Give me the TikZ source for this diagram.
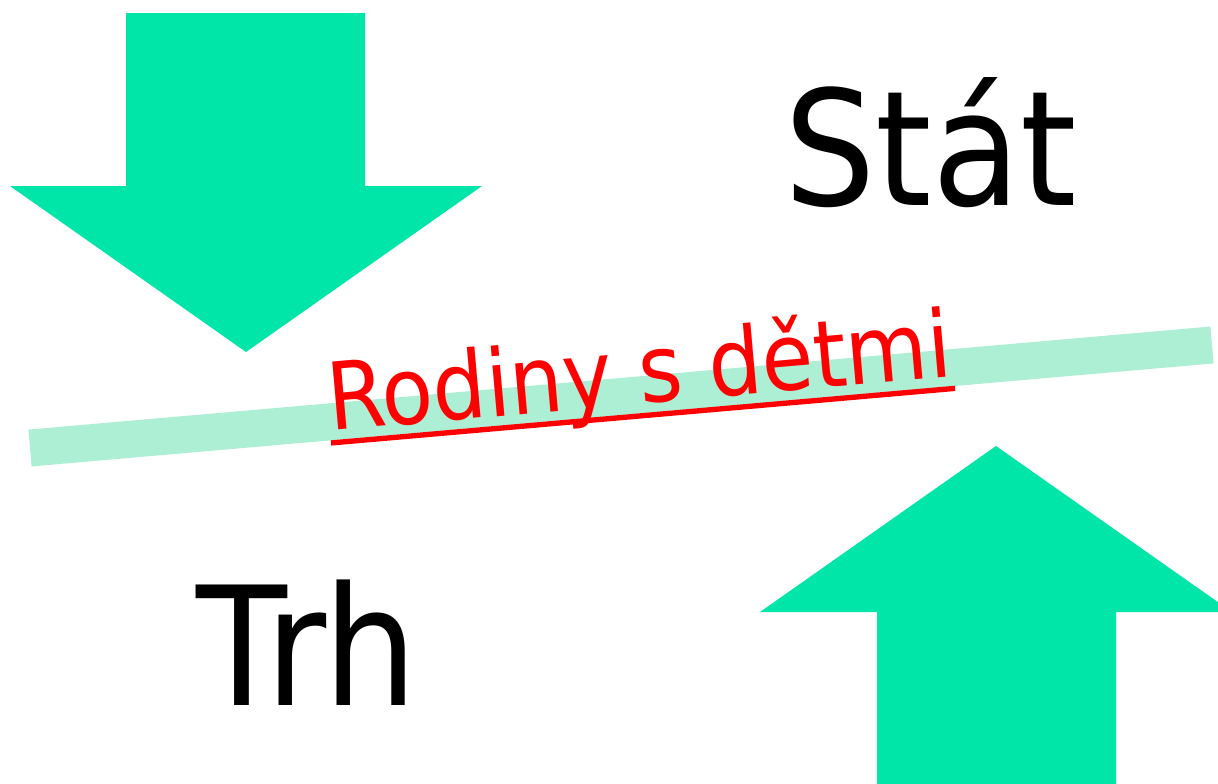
\documentclass[tikz,border=0pt]{standalone}
\usepackage{fontspec}
\setmainfont{DejaVu Sans}[FakeStretch=0.9]
\usetikzlibrary{calc}
\definecolor{arrowgreen}{RGB}{0,229,168}
\definecolor{bargreen}{RGB}{173,239,213}
\tikzset{bigarrow/.style={fill=arrowgreen, draw=none},
  word/.style={inner sep=0pt, anchor=base west}}

\begin{document}
\begin{tikzpicture}[x=0.75pt, y=-0.75pt]
\useasboundingbox (0,0) rectangle (1218,783);
\clip (0,0) rectangle (1218,783);

% arrows
\fill[bigarrow] (126,13) -- (365,13) -- (365,186) -- (482,186) -- (246,352) -- (10,186) -- (126,186) -- cycle;
\fill[bigarrow] (996,446) -- (1232,612) -- (1116,612) -- (1116,800) -- (877,800) -- (877,612) -- (760,612) -- cycle;

% bar
\coordinate (bar-l) at (30,448);
\coordinate (bar-r) at (1212,345);
\draw[bargreen, line width=27.75pt] (bar-l) -- (bar-r);

\node[word] (stat) at (784,205) {\fontsize{120}{144}\selectfont Stát};
\node[word] (trh) at (196,705) {\fontsize{124}{148}\selectfont Trh};
\node[word, rotate=5, text=red] (rodiny) at (330,431) {\fontsize{70}{84}\selectfont Rodiny s dětmi};
\draw[red, line width=4pt]
  ($(rodiny.base west)!9pt!-90:(rodiny.base east)$) -- ($(rodiny.base east)!9pt!90:(rodiny.base west)$);
\end{tikzpicture}
\end{document}
